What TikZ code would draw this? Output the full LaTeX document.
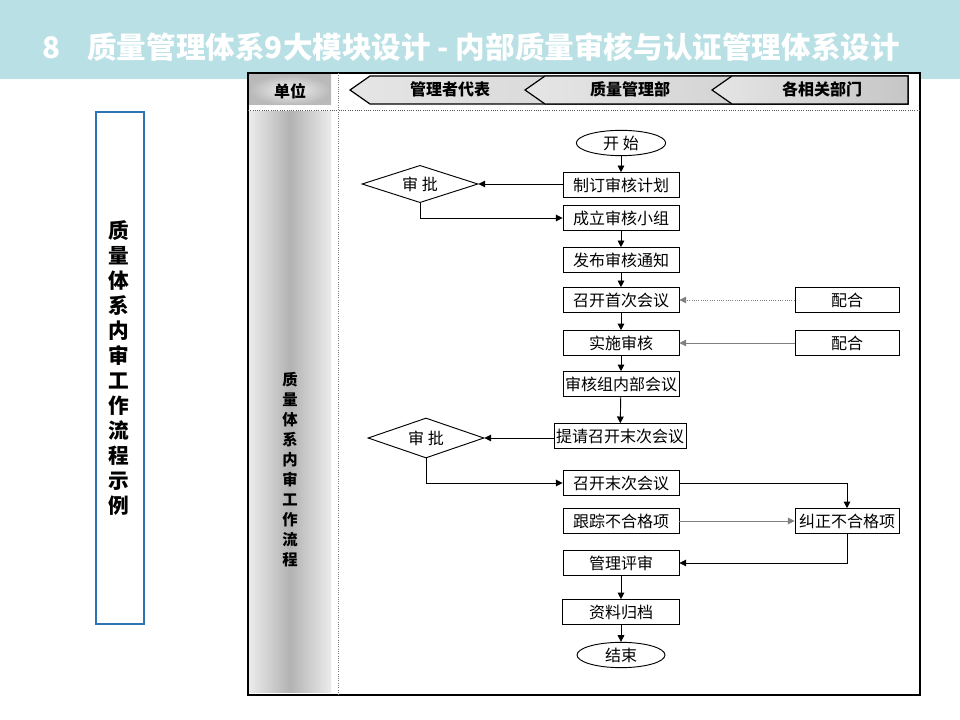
\documentclass[tikz,border=0pt]{standalone}
\usepackage{fontspec}
\setmainfont{Noto Sans CJK SC}
\usetikzlibrary{positioning, arrows.meta, shapes.geometric}

\definecolor{titlebar}{RGB}{185,224,228}
\definecolor{sideblue}{RGB}{46,117,182}

\begin{document}
\begin{tikzpicture}[
    x=0.75pt, y=-0.75pt,
    procbox/.style={rectangle, draw, line width=0.7pt, minimum width=87pt, minimum height=18.5pt, inner sep=1.5pt, font=\fontsize{12}{12}\selectfont},
    term/.style={ellipse, draw, line width=0.7pt, minimum width=67pt, minimum height=19pt, inner sep=0pt, font=\fontsize{12}{12}\selectfont},
    check/.style={diamond, draw, line width=0.7pt, shape aspect=3, minimum width=87pt, minimum height=28pt, inner sep=0pt, font=\fontsize{12}{12}\selectfont},
    arrow/.style={-{Triangle[length=5pt,width=5pt]}, line width=0.7pt},
    helper/.style={-{Triangle[length=5pt,width=5pt]}, line width=0.7pt, gray},
    chevron/.style={draw, line width=0.9pt, left color=gray!20, right color=gray!45},
    head/.style={font=\bfseries\fontsize{12}{12}\selectfont},
    vlabel/.style={align=center, font=\bfseries\fontsize{11.5}{15}\selectfont}
]
\useasboundingbox (0,0) rectangle (960,720);

% Title bar
\fill[titlebar] (0,0) rectangle (960,79);
\node[anchor=west, text=white, font=\bfseries\fontsize{22.2}{22.2}\selectfont] (title) at (38,47)
    {8\hspace{20pt}质量管理体系9大模块设计 - 内部质量审核与认证管理体系设计};

% Side box
\draw[sideblue, line width=0.8pt] (96,112) rectangle (144,624);
\node[align=center, font=\bfseries\fontsize{15.5}{18.75}\selectfont] (sidetitle) at (119,368)
    {质\\量\\体\\系\\内\\审\\工\\作\\流\\程\\示\\例};

% Table frame
\fill[white] (248,73) rectangle (920,695);
\draw[line width=0.9pt] (248,73) rectangle (920,695);
\draw[gray, densely dotted, line width=0.7pt] (338,73) -- (338,695);
\draw[gray!70!black, densely dotted, line width=0.7pt] (248,110) -- (920,110);

% Header row
\shade[inner color=gray!10, outer color=gray!55] (249,75) rectangle (331,105);
\node[head] (unit) at (290,91) {单位};
\foreach \tip in {350,525,712}
    \path[chevron] (\tip,90) -- (\tip+20,76) -- (908,76) -- (908,104) -- (\tip+20,104) -- cycle;
\node[head] (rep) at (450,89) {管理者代表};
\node[head] (qdept) at (630,89) {质量管理部};
\node[head] (others) at (822,89) {各相关部门};

% Lane column
\shade[left color=gray!15, right color=gray!15, middle color=gray!60] (249,112) rectangle (331,692);
\node[vlabel] (lane) at (290,470) {质\\量\\体\\系\\内\\审\\工\\作\\流\\程};

% Flow nodes
\node[term] (start) at (621,143) {开 始};
\node[procbox] (plan) at (621,185) {制订审核计划};
\node[check] (appr1) at (420,184) {审 批};
\node[procbox] (team) at (621,218) {成立审核小组};
\node[procbox] (notice) at (621,260) {发布审核通知};
\node[procbox] (firstmeet) at (621,300) {召开首次会议};
\node[procbox, minimum width=78pt] (coop1) at (847,300) {配合};
\node[procbox] (audit) at (621,343) {实施审核};
\node[procbox, minimum width=78pt] (coop2) at (847,343) {配合};
\node[procbox, minimum width=85pt] (inner) at (621,384) {审核组内部会议};
\node[procbox, minimum width=99pt] (request) at (620,436) {提请召开末次会议};
\node[check, minimum height=30pt] (appr2) at (426,438) {审 批};
\node[procbox] (lastmeet) at (621,483) {召开末次会议};
\node[procbox] (track) at (621,521) {跟踪不合格项};
\node[procbox, minimum width=78pt] (correct) at (847,521) {纠正不合格项};
\node[procbox] (review) at (621,563) {管理评审};
\node[procbox, minimum width=88pt] (archive) at (621,612) {资料归档};
\node[term, minimum width=66pt] (end) at (621,655) {结束};

% Connectors
\draw[arrow] (start) -- (plan);
\draw[arrow] (plan.west |- appr1.east) -- (appr1.east);
\draw[arrow] (appr1.south) |- (team.west);
\draw[arrow] (team) -- (notice);
\draw[arrow] (notice) -- (firstmeet);
\draw[arrow] (firstmeet) -- (audit);
\draw[arrow] (audit) -- (inner);
\draw[arrow] (inner) -- (request);
\draw[helper, densely dotted] (coop1) -- (firstmeet);
\draw[helper] (coop2) -- (audit);
\draw[arrow] (request.west |- appr2.east) -- (appr2.east);
\draw[arrow] (appr2.south) |- (lastmeet.west);
\draw[arrow] (lastmeet.east) -| (correct.north);
\draw[helper] (track) -- (correct);
\draw[arrow] (correct.south) |- (review.east);
\draw[arrow] (review) -- (archive);
\draw[arrow] (archive) -- (end);

\end{tikzpicture}
\end{document}
